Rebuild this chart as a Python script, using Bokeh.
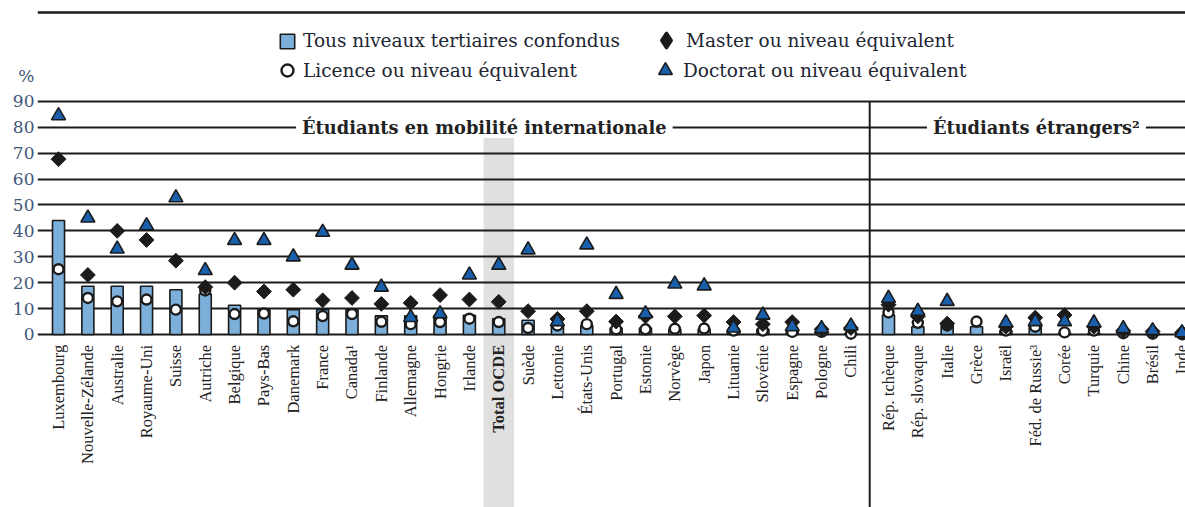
import math
from bokeh.plotting import figure
from bokeh.models import (ColumnDataSource, FixedTicker, Legend, LegendItem,
                          Label, Span)
from bokeh.embed import file_html
from bokeh.resources import INLINE

nan = float("nan")

# ---------------- data ----------------
left_countries = ["Luxembourg", "Nouvelle-Zélande", "Australie", "Royaume-Uni", "Suisse",
                  "Autriche", "Belgique", "Pays-Bas", "Danemark", "France", "Canada¹",
                  "Finlande", "Allemagne", "Hongrie", "Irlande", "Total OCDE", "Suède",
                  "Lettonie", "États-Unis", "Portugal", "Estonie", "Norvège", "Japon",
                  "Lituanie", "Slovénie", "Espagne", "Pologne", "Chili"]
tous_left = [44.0, 18.6, 18.6, 18.6, 17.3, 15.6, 11.3, 9.6, 9.6, 9.6, 9.6, 7.2, 7.2, 7.4,
             7.4, 6.1, 5.5, 3.5, 3.5, 2.5, 2.5, 2.0, 2.0, 2.0, 2.0, 1.0, 1.0, 0.5]
licence_left = [25.2, 14.1, 12.8, 13.5, 9.6, 17.0, 7.9, 8.1, 5.1, 7.1, 7.9, 4.9, 4.0, 4.8,
                6.1, 4.8, 2.5, 3.5, 4.0, 2.0, 2.0, 2.2, 2.3, 1.5, 1.5, 1.0, 1.0, 0.3]
master_left = [67.7, 23.0, 40.0, 36.5, 28.5, 18.3, 20.0, 16.6, 17.3, 13.2, 14.1, 11.8, 12.2,
               15.2, 13.5, 12.6, 9.0, 6.0, 9.0, 5.0, 7.0, 7.0, 7.3, 4.8, 4.0, 4.8, 2.0, 2.5]
doctorat_left = [84.5, 45.0, 33.0, 42.0, 52.8, 24.7, 36.3, 36.3, 30.0, 39.5, 26.8, 18.3, 6.6,
                 8.0, 23.0, 26.8, 32.7, 5.0, 34.6, 15.5, 8.0, 19.5, 18.8, 2.5, 7.5, 3.0, 2.3, 3.3]

right_countries = ["Rép. tchèque", "Rép. slovaque", "Italie", "Grèce", "Israël",
                   "Féd. de Russie³", "Corée", "Turquie", "Chine", "Brésil", "Inde"]
tous_right = [7.5, 3.0, 3.5, 3.0, 1.5, 3.5, 0.5, 0.5, 0.3, 0.2, 0.1]
licence_right = [8.5, 4.5, 3.5, 5.0, 1.5, 3.0, 0.8, 1.5, 0.5, 0.3, 0.1]
master_right = [11.5, 7.0, 4.2, nan, 3.0, 6.5, 7.5, 3.0, 1.5, 1.2, 0.7]
doctorat_right = [14.0, 9.0, 12.8, nan, 4.5, 5.0, 5.0, 4.5, 2.3, 1.5, 0.7]

y_ticks = [0, 10, 20, 30, 40, 50, 60, 70, 80, 90]
unit_label = "%"
legend_labels = ["Tous niveaux tertiaires confondus", "Licence ou niveau équivalent",
                 "Master ou niveau équivalent", "Doctorat ou niveau équivalent"]
group_titles = ["Étudiants en mobilité internationale", "Étudiants étrangers²"]
highlight = "Total OCDE"

# ---------------- layout helpers ----------------
GAP = 1.28  # extra slot between the two groups
n_left = len(left_countries)
xs = list(range(n_left)) + [n_left - 1 + GAP + i for i in range(len(right_countries))]
countries = left_countries + right_countries

src = ColumnDataSource(dict(
    x=xs,
    country=countries,
    tous=tous_left + tous_right,
    licence=licence_left + licence_right,
    master=master_left + master_right,
    doctorat=doctorat_left + doctorat_right,
    style=["bold" if c == highlight else "normal" for c in countries],
))

BLUE_BAR = "#7cb0da"
BLUE_TRI = "#1a5fab"
INK = "#1b1b1b"
AXIS_TXT = "#40577a"

Y0, Y1 = -66.8, 128.96
X0, X1 = -0.716, 38.40
UNIT_POS = 100.0

p = figure(width=1185, height=507, x_range=(X0, X1), y_range=(Y0, Y1),
           output_backend="svg", toolbar_location=None, x_axis_location=None,
           min_border=0, min_border_left=37, outline_line_color=None)
p.background_fill_color = "white"

# y axis (tick labels + the unit label above them)
p.yaxis.ticker = FixedTicker(ticks=y_ticks + [UNIT_POS])
p.yaxis.major_label_overrides = {UNIT_POS: unit_label}
p.yaxis.axis_line_color = None
p.yaxis.major_tick_in = 0
p.yaxis.major_tick_out = 0
p.yaxis.minor_tick_line_color = None
p.yaxis.major_label_text_font = "DejaVu Serif"
p.yaxis.major_label_text_font_size = "17px"
p.yaxis.major_label_text_color = AXIS_TXT
p.yaxis.major_label_standoff = 3

p.xgrid.grid_line_color = None
p.ygrid.ticker = FixedTicker(ticks=y_ticks)
p.ygrid.grid_line_color = INK
p.ygrid.grid_line_width = 2

# highlight band behind "Total OCDE"
hx = xs[countries.index(highlight)]
p.quad(left=hx - 0.52, right=hx + 0.52, bottom=Y0, top=76.1,
       fill_color="#e0e0e0", line_color=None, level="underlay")

# divider between groups
div_x = (xs[n_left - 1] + xs[n_left]) / 2
p.segment(x0=div_x, x1=div_x, y0=Y0, y1=y_ticks[-1], line_color=INK, line_width=2)

# top rule
p.add_layout(Span(location=124.3, dimension="width", line_color=INK, line_width=2.5))

# series
r_bar = p.vbar(x="x", top="tous", bottom=0, width=0.41, source=src,
               fill_color=BLUE_BAR, line_color=INK, line_width=1.6)
r_lic = p.scatter(x="x", y="licence", source=src, marker="circle", size=10,
                  fill_color="white", line_color=INK, line_width=2.4)
r_mas = p.scatter(x="x", y="master", source=src, marker="square", angle=math.pi / 4,
                  size=10.5, fill_color=INK, line_color=INK, line_width=1)
r_doc = p.scatter(x="x", y="doctorat", source=src, marker="triangle", size=14,
                  fill_color=BLUE_TRI, line_color=INK, line_width=1.6)
# legend-only key for the diamond (legend glyphs are drawn unrotated); no visible point
r_mas_key = p.scatter(x=[nan], y=[nan], marker="diamond", size=10,
                      fill_color=INK, line_color=INK, line_width=2.4)

# category labels (rotated)
p.text(x="x", y=-4.0, text="country", source=src, angle=math.pi / 2,
       text_align="right", text_baseline="middle", text_font="Liberation Serif",
       text_font_size="16.5px", text_color="#222222", text_font_style="style")

# group titles interrupting the 80 gridline
for tx, title in zip([14.51, 33.32], group_titles):
    p.add_layout(Label(x=tx, y=80, text=title, text_align="center", text_baseline="middle",
                       text_font="DejaVu Serif", text_font_style="bold",
                       text_font_size="17.8px", text_color="#222222",
                       background_fill_color="white",
                       padding=dict(left=6, right=6, top=0, bottom=0)))

# legends (one per entry so that each symbol gets its own size)
leg_common = dict(label_text_font="DejaVu Serif", label_text_font_size="18.5px",
                  label_text_color="#1e2633", padding=0, margin=0, spacing=0,
                  border_line_color=None, background_fill_alpha=0)
legend_specs = [
    (r_bar, legend_labels[0], 18, 7, (241, 456)),
    (r_lic, legend_labels[1], 30, 1, (235, 422)),
    (r_mas_key, legend_labels[2], 40, 0, (609, 447)),
    (r_doc, legend_labels[3], 34, 1, (611, 420)),
]
for rend, lab, gsz, stand, loc in legend_specs:
    p.add_layout(Legend(items=[LegendItem(label=lab, renderers=[rend])],
                        glyph_width=gsz, glyph_height=gsz, label_standoff=stand,
                        location=loc, **leg_common))

open("out.html", "w").write(file_html(p, INLINE))
